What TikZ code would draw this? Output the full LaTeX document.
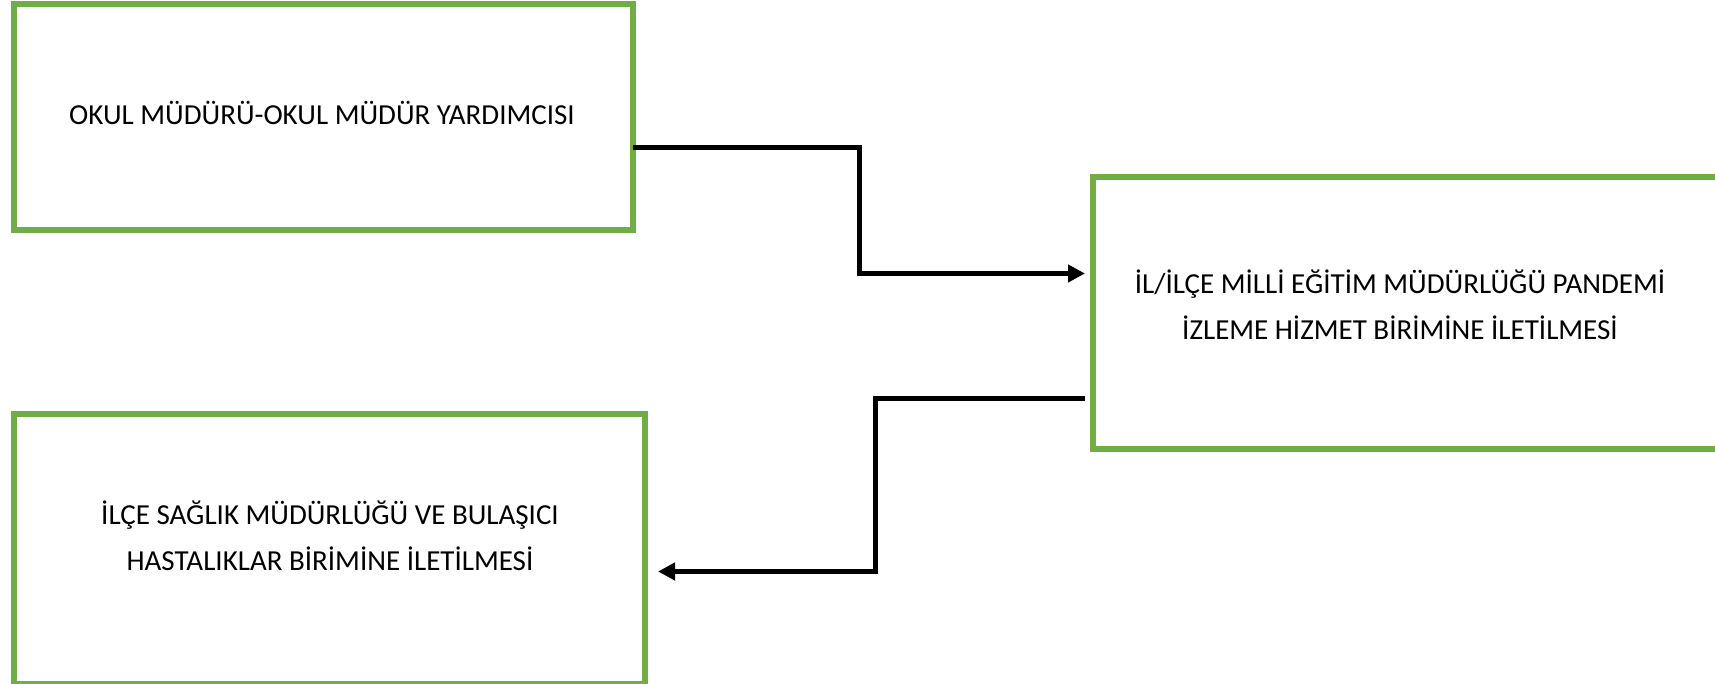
\documentclass[tikz,border=0pt]{standalone}
\usepackage{fontspec}
\setmainfont{Carlito}
\usetikzlibrary{arrows.meta}
\definecolor{boxgreen}{HTML}{70AD47}
\begin{document}
\begin{tikzpicture}[x=1pt,y=1pt,
  box/.style={draw=boxgreen,line width=6pt,fill=white,rectangle,inner sep=0pt,outer sep=0pt,line join=miter},
  lbl/.style={align=center,inner sep=0pt,font=\fontsize{29}{46}\selectfont},
  conn/.style={draw=black,line width=5pt,line join=miter,-{Triangle[length=17pt,width=17pt]}}]
\useasboundingbox[fill=white] (0,0) rectangle (1715,683);
\node[box,minimum width=619pt,minimum height=226pt] (b1) at (323.5,566) {};
\node[box,minimum width=637pt,minimum height=272pt] (b2) at (1411.5,369.5) {};
\node[box,minimum width=630.5pt,minimum height=269.5pt] (b3) at (329.25,133.75) {};
\node[lbl] (t1) at (322,570) {OKUL MÜDÜRÜ-OKUL MÜDÜR YARDIMCISI};
\node[lbl] (t2) at (1400,378) {İL/İLÇE MİLLİ EĞİTİM MÜDÜRLÜĞÜ PANDEMİ\\İZLEME HİZMET BİRİMİNE İLETİLMESİ};
\node[lbl] (t3) at (330,147) {İLÇE SAĞLIK MÜDÜRLÜĞÜ VE BULAŞICI\\HASTALIKLAR BİRİMİNE İLETİLMESİ};
\coordinate (m1) at (859.5,470);
\coordinate (m2) at (875.5,200);
\draw[conn,shorten >=8pt] ([yshift=-30.5pt]b1.east) -| (m1) |- ([yshift=40pt]b2.west);
\draw[conn,shorten <=8pt,shorten >=13.5pt] ([yshift=-85.5pt]b2.west) -| (m2) |- ([yshift=-22.25pt]b3.east);
\end{tikzpicture}
\end{document}
